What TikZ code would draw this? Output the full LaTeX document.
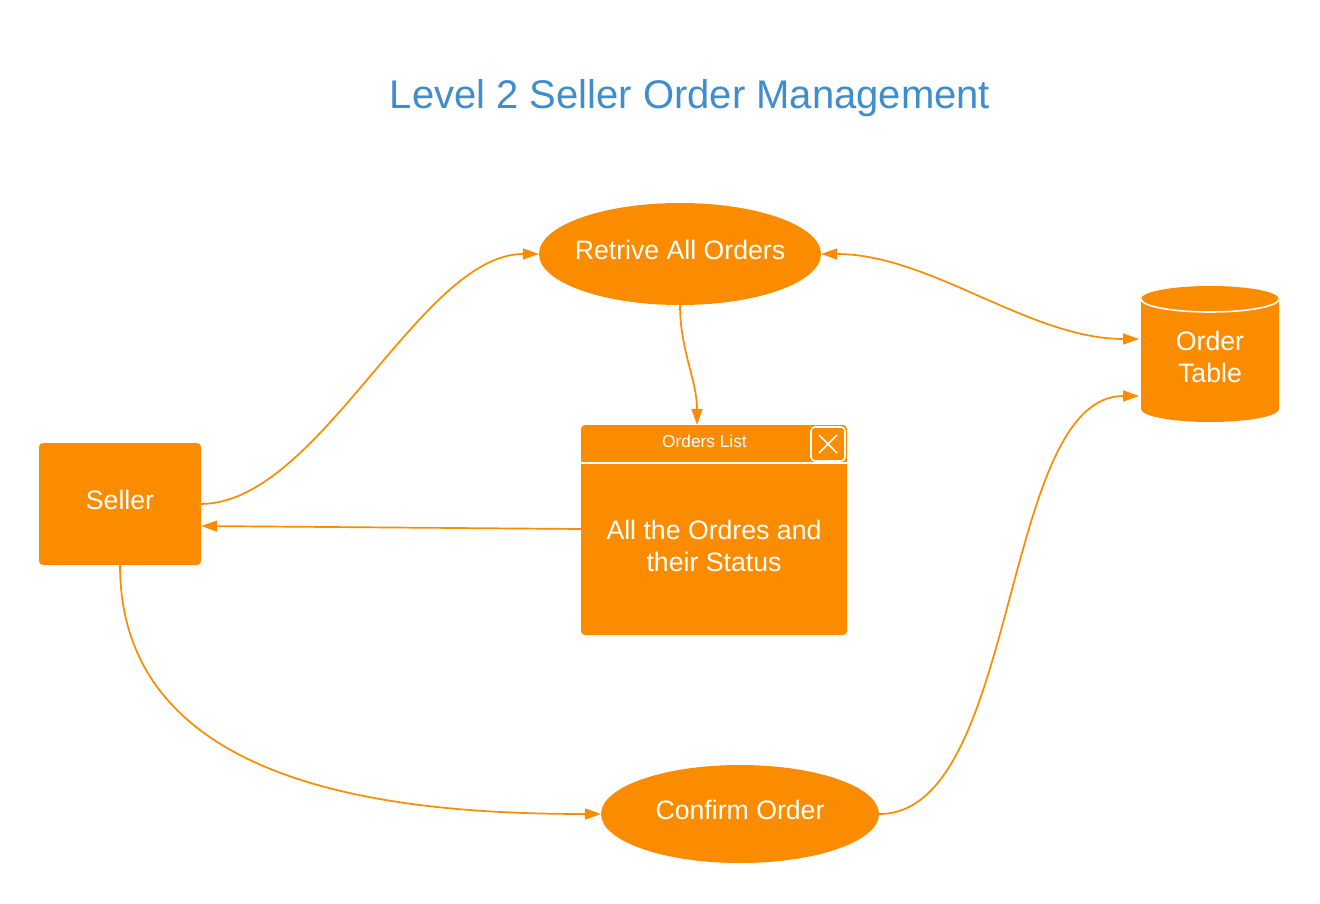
\documentclass[tikz,border=0pt]{standalone}
\usepackage{fontspec}
\setmainfont{Liberation Sans}
\usetikzlibrary{arrows.meta,shapes.geometric}
\definecolor{org}{RGB}{251,140,0}
\definecolor{ttl}{RGB}{64,141,205}
\tikzset{
  tip/.tip={Triangle[length=16pt,width=11pt]},
  conn/.style={draw=org, line width=1.7pt, -tip},
  biconn/.style={draw=org, line width=1.7pt, tip-tip},
  proc/.style={ellipse, fill=org, inner sep=0pt},
  ent/.style={rectangle, rounded corners=4pt, fill=org},
  lbl/.style={text=white, align=center, font=\fontsize{26.67}{32}\selectfont},
}
\begin{document}
\begin{tikzpicture}[x=1pt,y=-1pt]
\useasboundingbox[fill=white] (0,0) rectangle (1320,904);
% title
\node[text=ttl, font=\fontsize{40}{48}\selectfont] (title) at (690,98) {Level 2 Seller Order Management};
% seller
\node[ent, minimum width=162pt, minimum height=122pt] (seller) at (120,504) {};
\node[lbl] (sellertext) at (120,500) {Seller};
% processes
\node[proc, minimum width=282pt, minimum height=102pt] (ret) at (680,254) {};
\node[lbl] (rettext) at (680,250) {Retrive All Orders};
\node[proc, minimum width=278pt, minimum height=98pt] (conf) at (740,814) {};
\node[lbl] (conftext) at (740,810) {Confirm Order};
% window
\node[rectangle, rounded corners=4pt, fill=org, minimum width=266pt, minimum height=210pt] (win) at (714,530) {};
\draw[white, line width=2pt] (581,463) -- (847,463);
\node[text=white, font=\fontsize{17.3}{20}\selectfont] (wintitle) at (704.5,441) {Orders List};
\draw[white, line width=1.6pt, rounded corners=4pt] (811,427) rectangle (845,461);
\draw[white, line width=1.6pt] (819,435) -- (837,453) (837,435) -- (819,453);
\node[lbl] (wintext) at (714,546) {All the Ordres and\\their Status};
% cylinder
\fill[org] (1141,299) -- (1141,409) arc (180:0:69 and 13) -- (1279,299) arc (0:-180:69 and 13) -- cycle;
\draw[white, line width=1.6pt] (1141,299) arc (180:0:69 and 13);
\node[lbl, minimum width=138pt, minimum height=136pt] (tbl) at (1210,357) {Order\\Table};
\coordinate (tblA) at (1139,339);
\coordinate (tblB) at (1139,396);
% connectors
\draw[conn] (seller.east) .. controls (320,503) and (420,254) .. (ret.west);
\draw[conn] (ret.south) .. controls (680,350) and (697,380) .. ([xshift=-17pt]win.north);
\draw[biconn] (ret.east) .. controls (930,254) and (1030,339) .. (tblA);
\draw[conn] (win.west |- 0,529) -- (seller.east |- 0,526);
\draw[conn] (seller.south) .. controls (120,790) and (400,814) .. (conf.west);
\draw[conn] (conf.east) .. controls (1020,814) and (1000,396) .. (tblB);
\end{tikzpicture}
\end{document}
